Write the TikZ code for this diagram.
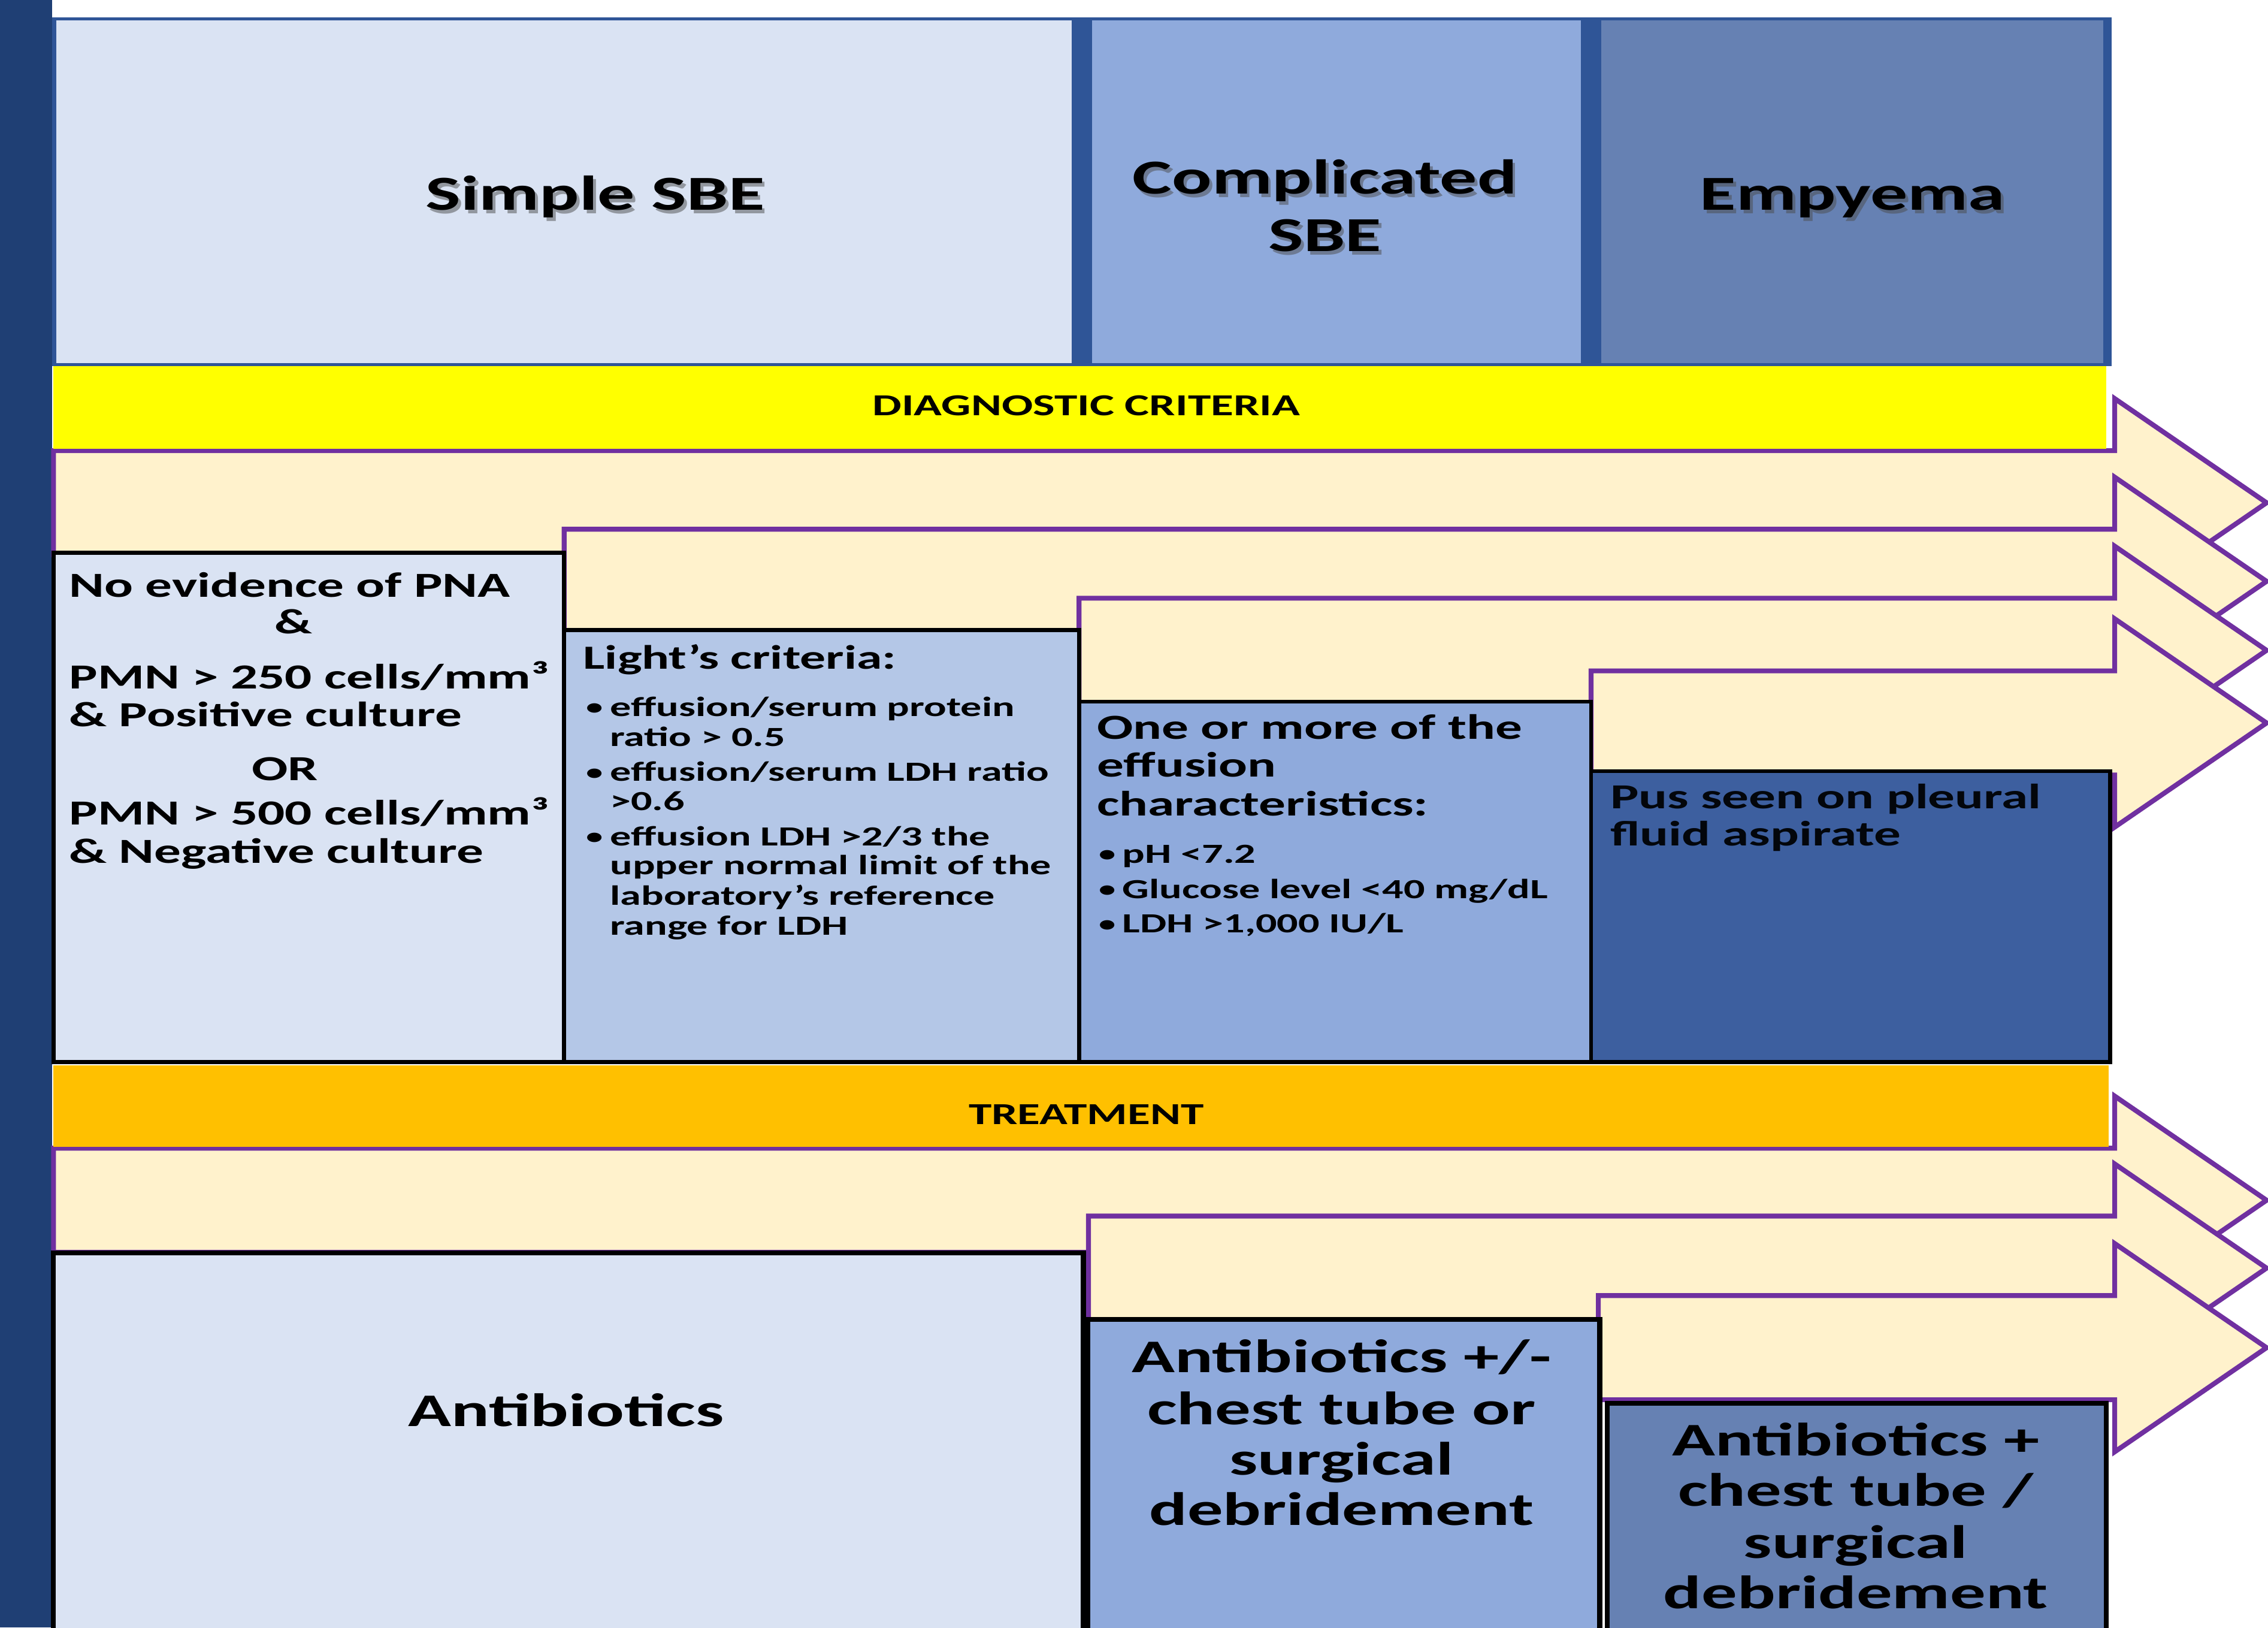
\documentclass[tikz,border=0pt]{standalone}
\usepackage{fontspec}
\setmainfont{Carlito}[FakeStretch=1.52]
\definecolor{navy}{HTML}{1F3F74}
\definecolor{hdrline}{HTML}{2F5597}
\definecolor{cA}{HTML}{DAE3F3}
\definecolor{cB}{HTML}{B4C7E7}
\definecolor{cC}{HTML}{8FAADC}
\definecolor{cD}{HTML}{3D5F9F}
\definecolor{cE}{HTML}{6681B3}
\definecolor{cream}{HTML}{FFF2CC}
\definecolor{arrline}{HTML}{7030A0}
\definecolor{diagyellow}{HTML}{FFFF00}
\definecolor{treatorange}{HTML}{FFC000}
\newcommand\bigarr[2]{%
  \draw[arrowst] (#1,#2-36) -- (1462,#2-36) -- (1462,#2-72) -- (1567,#2)
    -- (1462,#2+72) -- (1462,#2+36) -- (#1,#2+36) -- cycle;}
\begin{document}
\begin{tikzpicture}[x=0.025cm,y=-0.025cm,
  arrowst/.style={fill=cream,draw=arrline,line width=2.4pt,line join=miter},
  dbox/.style={draw=black,line width=2pt},
  tbox/.style={draw=black,line width=2.4pt},
  hdr/.style={inner sep=0pt,anchor=base,text=black,font=\bfseries\fontsize{24}{28}\selectfont},
  hshadow/.style={hdr,text=black!70,opacity=0.5},
  bar/.style={inner sep=0pt,anchor=base,text=black,font=\bfseries\fontsize{15}{18}\selectfont},
  txt/.style={inner sep=0pt,anchor=base west,text=black,font=\bfseries\fontsize{17.3}{20}\selectfont},
  ctxt/.style={txt,anchor=base},
  btxt/.style={txt,font=\bfseries\fontsize{13.6}{16}\selectfont},
  dot/.style={txt,font=\bfseries\fontsize{11}{13}\selectfont},
  ttxt/.style={inner sep=0pt,anchor=base,text=black,font=\bfseries\fontsize{23}{26}\selectfont}]
\useasboundingbox (0,0) rectangle (1568,1125);
\fill[white] (0,0) rectangle (1568,1125);
\begin{scope}
\clip (0,0) rectangle (1568,1125);
% left bar
\fill[navy] (0,0) rectangle (36,1125);
% header
\fill[hdrline] (36,12) rectangle (1460,253);
\fill[cA] (39,14) rectangle (741,251);
\fill[cC] (755,14) rectangle (1093,251);
\fill[cE] (1107,14) rectangle (1454,251);
% diagnostic arrows
\bigarr{37}{347.5}
\bigarr{390}{401.8}
\bigarr{746}{449.5}
\bigarr{1100}{499.7}
\fill[diagyellow] (37,253) rectangle (1456,310.3);
% diagnostic boxes
\draw[dbox,fill=cA] (37,382) rectangle (390,734);
\draw[dbox,fill=cB] (390,435.5) rectangle (746,734);
\draw[dbox,fill=cC] (746,485) rectangle (1100,734);
\draw[dbox,fill=cD] (1100,533) rectangle (1459,734);
% treatment arrows
\bigarr{37}{829.6}
\bigarr{752.5}{876.5}
\bigarr{1105}{931.5}
\fill[treatorange] (37,736.5) rectangle (1458,792.8);
% treatment boxes
\draw[tbox,fill=cA] (37,866) rectangle (749,1140);
\draw[tbox,fill=cC] (752,912) rectangle (1106,1140);
\draw[tbox,fill=cE] (1111,970) rectangle (1456,1140);
\end{scope}
% header texts
\node[hshadow] (hs1) at (413.5,147.6) {Simple SBE};
\node[hdr] (h1) at (411.5,145.1) {Simple SBE};
\node[hshadow] (hs2) at (918,136.5) {Complicated};
\node[hdr] (h2) at (916,134) {Complicated};
\node[hshadow] (hs3) at (918,176.3) {SBE};
\node[hdr] (h3) at (916,173.8) {SBE};
\node[hshadow] (hs4) at (1282.6,147.6) {Empyema};
\node[hdr] (h4) at (1280.6,145.1) {Empyema};
% bars
\node[bar] (diag) at (751,287.2) {DIAGNOSTIC CRITERIA};
\node[bar] (treat) at (751,777) {TREATMENT};
% column 1
\node[txt] (a1) at (47.7,412.7) {No evidence of PNA};
\node[ctxt] (a2) at (203,438) {\&};
\node[txt] (a3) at (47.7,476) {PMN > 250 cells/mm³};
\node[txt] (a4) at (47.7,502) {\& Positive culture};
\node[ctxt] (a5) at (197,539.5) {OR};
\node[txt] (a6) at (47.7,570.2) {PMN > 500 cells/mm³};
\node[txt] (a7) at (47.7,596.5) {\& Negative culture};
% column 2
\node[txt,font=\bfseries\fontsize{16.6}{20}\selectfont] (b0) at (403,462.4) {Light’s criteria:};
\node[dot] (bb1) at (405,494) {•};
\node[btxt] (b1) at (421.5,495.1) {effusion/serum protein};
\node[btxt] (b2) at (421.5,515.7) {ratio > 0.5};
\node[dot] (bb2) at (405,539) {•};
\node[btxt] (b3) at (421.5,540) {effusion/serum LDH ratio};
\node[btxt] (b4) at (421.5,560.1) {>0.6};
\node[dot] (bb3) at (405,583.5) {•};
\node[btxt] (b5) at (421.5,584.5) {effusion LDH >2/3 the};
\node[btxt] (b6) at (421.5,604.4) {upper normal limit of the};
\node[btxt] (b7) at (421.5,625.7) {laboratory’s reference};
\node[btxt] (b8) at (421.5,646.3) {range for LDH};
% column 3
\node[txt] (c1) at (758.1,511) {One or more of the};
\node[txt] (c2) at (758.1,537) {effusion};
\node[txt] (c3) at (758.1,563.9) {characteristics:};
\node[dot] (cb1) at (759.5,595.5) {•};
\node[btxt] (c4) at (775.7,596.5) {pH <7.2};
\node[dot] (cb2) at (759.5,619.9) {•};
\node[btxt] (c5) at (775.7,620.9) {Glucose level <40 mg/dL};
\node[dot] (cb3) at (759.5,643.7) {•};
\node[btxt] (c6) at (775.7,644.7) {LDH >1,000 IU/L};
% column 4
\node[txt,text=black!90!navy] (d1) at (1113,559.1) {Pus seen on pleural};
\node[txt,text=black!90!navy] (d2) at (1113,584.5) {fluid aspirate};
% treatment texts
\node[ttxt] (t1) at (391.4,985.9) {Antibiotics};
\node[ttxt] (t2a) at (927.5,948.8) {Antibiotics +/-};
\node[ttxt] (t2b) at (927.5,984.5) {chest tube or};
\node[ttxt] (t2c) at (927.5,1019.4) {surgical};
\node[ttxt] (t2d) at (927.5,1054.3) {debridement};
\node[ttxt] (t3a) at (1283,1006) {Antibiotics +};
\node[ttxt] (t3b) at (1283,1040.9) {chest tube /};
\node[ttxt] (t3c) at (1283,1077.1) {surgical};
\node[ttxt] (t3d) at (1283,1112) {debridement};
\end{tikzpicture}
\end{document}
